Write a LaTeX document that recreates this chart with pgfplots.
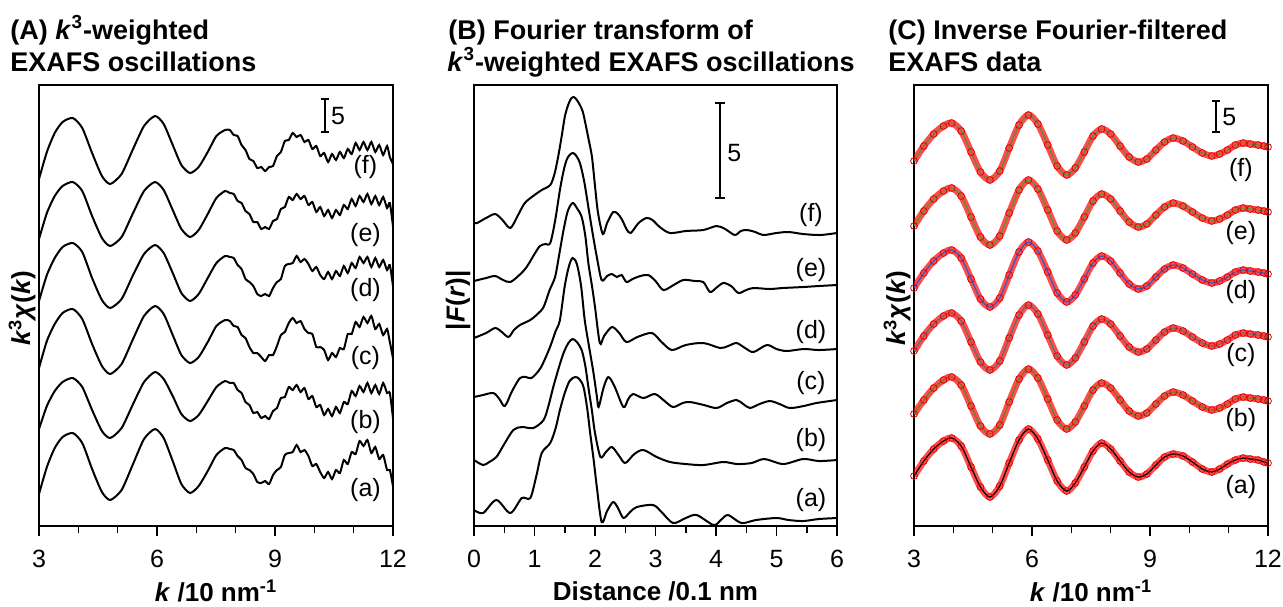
\documentclass[border=0pt]{standalone}
\usepackage{fontspec}
\setmainfont{Liberation Sans}
\usepackage{pgfplots}
\usepackage{pgfplotstable}
\pgfplotsset{compat=1.18}

\definecolor{fitf}{RGB}{95,140,60}
\definecolor{fite}{RGB}{90,150,50}
\definecolor{fitd}{RGB}{50,90,200}
\definecolor{fitc}{RGB}{90,115,110}
\definecolor{fitb}{RGB}{100,130,40}
\definecolor{fita}{RGB}{0,0,0}

% Panel A: k^3-weighted EXAFS (height in px above axis bottom)
\pgfplotstableread{
k a b c d e f
3.0 32 97 158 225 287 347
3.2 59 120 185 251 313 374
3.4 78 135 202 268 330 393
3.6 89 144 213 279 340 404
3.86 93 148 217 283 344 408
4.1 83 139 207 274 335 398
4.35 57 116 182 248 310 373
4.6 34 95 160 226 288 350
4.81 26 88 152 218 280 342
5.1 36 98 162 227 289 352
5.38 61 121 186 250 312 376
5.67 87 144 210 272 335 400
5.95 97 154 220 281 344 410
6.17 88 147 212 273 336 402
6.4 65 130 191 253 316 381
6.62 42 112 171 233 297 361
6.84 33 105 163 225 289 353
7.06 40 111 169 232 296 359
7.29 55 125 184 248 312 374
7.51 71 139 200 263 328 390
7.73 78 145 206 270 335 396
7.85 77 143 205 269 333 396
7.95 76 143 200 268 332 391
8.05 70 136 199 261 325 390
8.15 66 133 191 257 323 381
8.25 58 124 188 247 315 376
8.35 56 121 179 244 312 367
8.45 52 113 173 240 304 365
8.55 44 114 173 232 304 358
8.65 43 108 169 230 297 359
8.75 45 110 165 232 299 355
8.85 42 107 171 230 297 359
8.95 51 115 171 238 305 360
9.05 56 118 180 244 307 370
9.15 59 128 191 247 317 374
9.25 71 129 194 260 319 385
9.35 73 139 203 262 329 386
9.45 74 136 208 263 326 393
9.55 81 141 203 270 332 389
9.65 74 134 205 264 327 391
9.75 76 138 197 267 330 384
9.85 70 127 193 262 321 386
9.95 60 130 192 255 324 377
10.05 62 119 179 259 314 380
10.15 54 121 179 251 319 370
10.25 48 111 176 247 310 373
10.35 54 117 166 254 316 364
10.45 47 110 173 247 308 372
10.55 56 119 169 255 316 366
10.65 53 113 178 250 311 374
10.75 66 124 177 260 321 368
10.85 62 122 192 253 317 377
10.95 74 135 192 263 327 372
11.05 72 130 204 258 320 383
11.15 85 140 199 269 330 376
11.25 80 134 209 263 324 384
11.35 86 143 203 269 332 376
11.45 73 133 210 259 322 384
11.55 79 141 197 268 330 374
11.65 67 132 202 259 321 381
11.75 71 143 191 266 329 371
11.85 56 133 197 256 318 380
11.92 56 133 184 261 323 369
12.0 40 108 168 240 300 362
}\tabA

% Panel C: inverse Fourier-filtered EXAFS
\pgfplotstableread{
k f e d c b a
3.0 365 300 238 175 112 50
3.25 380 315 253 190 126 65
3.5 392 327 265 202 138 77
3.75 400 335 273 210 146 85
3.96 403 338 276 213 149 88
4.20 395 330 268 205 141 80
4.45 374 309 247 184 120 59
4.69 354 289 227 164 100 39
4.93 346 281 219 156 92 29
5.18 355 290 228 165 101 40
5.42 378 313 251 188 124 63
5.67 401 336 274 211 147 86
5.91 411 346 284 221 157 97
6.15 402 337 275 212 148 87
6.40 381 316 254 191 127 66
6.64 360 295 233 170 106 45
6.88 351 286 224 161 97 35
7.10 358 293 231 168 104 43
7.33 374 309 247 184 120 59
7.55 390 325 263 200 136 75
7.77 397 332 270 207 143 83
8.00 392 327 265 202 138 77
8.24 380 315 253 190 126 65
8.47 369 304 242 179 115 54
8.70 364 299 237 174 110 49
8.92 367 302 240 177 113 52
9.15 376 311 249 186 122 61
9.37 384 319 257 194 130 69
9.59 388 323 261 198 134 72
9.84 385 320 258 195 131 70
10.08 379 314 252 189 125 64
10.33 373 308 246 183 119 57
10.57 370 305 243 180 116 54
10.77 372 307 245 182 118 57
10.97 376 311 249 186 122 62
11.17 381 316 254 191 127 66
11.37 383 318 256 193 129 68
11.55 382 317 255 192 128 67
11.75 381 316 254 191 127 66
11.9 380 315 253 190 126 64
12.0 379 314 252 189 125 63
}\tabC

\tikzset{lbl/.style={font=\fontsize{12.5}{14}\selectfont, inner sep=0pt},
  ttl/.style={anchor=base west, inner sep=0pt, font=\bfseries\fontsize{13.5}{16}\selectfont}}

\pgfplotsset{
  panel/.style={
    scale only axis, anchor=north west,
    height=220.5pt,
    axis line style={line width=0.75pt},
    ytick=\empty, ymin=0, ymax=441,
    xtick pos=bottom,
    tick align=outside,
    major tick length=5pt, minor tick length=3.5pt,
    tick style={line width=0.75pt, black},
    /pgf/number format/assume math mode=true,
    xticklabel style={font=\fontsize{12.5}{14}\selectfont, anchor=center, yshift=-11.5pt},
    xlabel style={font=\bfseries\fontsize{13}{15}\selectfont, at={(axis description cs:0.5,-0.147)}, anchor=center},
    ylabel style={font=\bfseries\fontsize{13}{15}\selectfont, anchor=center},
  },
  curveA/.style={black, line width=1pt, smooth, tension=0.4},
  curveB/.style={black, line width=1pt, smooth, tension=0.5},
  band/.style={red, line width=3.4pt, opacity=0.7, smooth},
  circ/.style={red!90!black, only marks, mark=o, mark size=1.7pt, mark options={line width=0.4pt}},
}

\begin{document}
\begin{tikzpicture}[x=0.5pt,y=-0.5pt]
\useasboundingbox (0,0) rectangle (1283,606);

% Titles
\node[ttl] at (10,39) {(A) \textit{k}\textsuperscript{3}-weighted};
\node[ttl] at (10,71) {EXAFS oscillations};
\node[ttl] at (448,39) {(B) Fourier transform of};
\node[ttl] at (447,71) {\textit{k}\textsuperscript{3}-weighted EXAFS oscillations};
\node[ttl] at (888,39) {(C) Inverse Fourier-filtered};
\node[ttl] at (888,71) {EXAFS data};

% ---------------- Panel A ----------------
\begin{axis}[panel, at={(19.5pt,-42.5pt)}, width=177pt,
  xmin=3, xmax=12, xtick={3,6,9,12}, minor x tick num=2,
  xlabel={\textit{k} /10 nm\textsuperscript{-1}},
  ylabel={\textit{k}\textsuperscript{3}\textit{χ}(\textit{k})},
  ylabel style={at={(axis description cs:-0.048,0.494)}}]
\addplot[curveA] table[x=k,y=a]{\tabA};
\addplot[curveA] table[x=k,y=b]{\tabA};
\addplot[curveA] table[x=k,y=c]{\tabA};
\addplot[curveA] table[x=k,y=d]{\tabA};
\addplot[curveA] table[x=k,y=e]{\tabA};
\addplot[curveA] table[x=k,y=f]{\tabA};
\node[lbl] at (axis cs:11.3,36) {(a)};
\node[lbl] at (axis cs:11.3,104) {(b)};
\node[lbl] at (axis cs:11.3,168) {(c)};
\node[lbl] at (axis cs:11.3,236) {(d)};
\node[lbl] at (axis cs:11.3,291) {(e)};
\node[lbl] at (axis cs:11.3,359) {(f)};
\draw[line width=0.75pt] (axis cs:10.27,394) -- (axis cs:10.27,427);
\draw[line width=0.75pt] ([xshift=-2pt]axis cs:10.27,394) -- ([xshift=2pt]axis cs:10.27,394);
\draw[line width=0.75pt] ([xshift=-2pt]axis cs:10.27,427) -- ([xshift=2pt]axis cs:10.27,427);
\node[lbl, anchor=west] at (axis cs:10.42,410) {5};
\end{axis}

% ---------------- Panel B ----------------
\begin{axis}[panel, at={(237pt,-42.5pt)}, width=181.5pt,
  xmin=0, xmax=6, xtick={0,1,2,3,4,5,6}, minor x tick num=1,
  xlabel={Distance /0.1 nm},
  ylabel={|\textit{F}(\textit{r})|},
  ylabel style={at={(axis description cs:-0.044,0.512)}}]
% (a)
\addplot[curveB] coordinates {(0,16) (0.15,13) (0.37,26) (0.6,13) (0.79,28) (0.93,28) (1.03,50) (1.12,73) (1.26,83) (1.35,98) (1.42,116) (1.50,133) (1.58,145) (1.67,149) (1.74,147) (1.81,139) (1.87,118) (1.92,93) (1.98,65) (2.03,39) (2.11,4) (2.2,15) (2.30,24) (2.38,18) (2.47,8) (2.58,14) (2.69,19) (2.96,21) (3.1,14) (3.29,3) (3.5,8) (3.68,11) (3.96,1) (4.08,6) (4.2,11) (4.42,3) (4.66,6) (5.0,8) (5.2,6) (5.44,5) (5.7,7) (6.0,8)};
% (b)
\addplot[curveB] coordinates {(0,66) (0.15,61) (0.25,64) (0.37,69) (0.5,82) (0.65,96) (0.79,99) (0.98,98) (1.15,106) (1.23,120) (1.31,139) (1.40,158) (1.48,173) (1.56,183) (1.63,187) (1.70,184) (1.78,176) (1.84,160) (1.89,139) (1.95,115) (2.0,93) (2.09,69) (2.18,74) (2.28,79) (2.4,70) (2.50,63) (2.65,72) (2.80,76) (3.02,69) (3.24,64) (3.5,62) (3.79,61) (4.12,64) (4.35,62) (4.59,63) (4.8,67) (5.11,62) (5.44,67) (5.7,65) (6.0,66)};
% (c)
\addplot[curveB] coordinates {(0,129) (0.15,131) (0.32,133) (0.42,127) (0.51,120) (0.63,135) (0.76,148) (0.86,149) (0.95,148) (1.1,158) (1.25,178) (1.35,195) (1.42,206) (1.5,240) (1.57,260) (1.63,268) (1.70,262) (1.77,240) (1.83,206) (1.9,180) (1.97,155) (2.03,130) (2.06,119) (2.14,138) (2.22,149) (2.32,140) (2.47,119) (2.55,127) (2.63,132) (2.8,128) (2.99,132) (3.15,125) (3.29,119) (3.45,123) (3.57,124) (3.8,121) (4.01,118) (4.18,123) (4.34,126) (4.45,122) (4.56,118) (4.72,122) (4.89,125) (5.05,122) (5.22,118) (5.45,120) (5.66,123) (6.0,126)};
% (d)
\addplot[curveB] coordinates {(0,188) (0.2,193) (0.35,198) (0.46,194) (0.57,189) (0.66,196) (0.76,201) (0.93,206) (1.05,212) (1.15,219) (1.25,236) (1.34,249) (1.41,272) (1.48,296) (1.55,315) (1.63,323) (1.70,318) (1.78,309) (1.84,290) (1.89,263) (1.95,240) (2.0,219) (2.08,183) (2.15,190) (2.28,199) (2.4,193) (2.52,184) (2.7,189) (2.94,193) (3.1,184) (3.27,176) (3.5,181) (3.79,183) (4.07,178) (4.2,180) (4.34,183) (4.48,178) (4.62,174) (4.84,181) (5.0,177) (5.17,175) (5.45,177) (5.7,176) (6.0,177)};
% (e)
\addplot[curveB] coordinates {(0,245) (0.2,248) (0.35,250) (0.48,246) (0.60,244) (0.75,251) (0.87,259) (1.0,272) (1.09,280) (1.18,282) (1.26,283) (1.34,305) (1.42,336) (1.48,355) (1.53,366) (1.58,371) (1.63,373) (1.68,371) (1.75,363) (1.82,345) (1.89,319) (1.96,293) (2.03,269) (2.11,246) (2.2,250) (2.28,252) (2.36,249) (2.44,251) (2.52,244) (2.62,247) (2.75,250) (2.88,251) (3.0,245) (3.13,236) (3.3,241) (3.46,246) (3.65,245) (3.79,244) (3.90,234) (4.0,238) (4.12,243) (4.25,240) (4.37,233) (4.5,236) (4.62,238) (4.89,237) (5.1,238) (5.44,239) (5.7,240) (6.0,241)};
% (f)
\addplot[curveB] coordinates {(0,303) (0.05,303) (0.2,308) (0.35,312) (0.47,306) (0.6,298) (0.72,310) (0.84,323) (1.0,331) (1.12,336) (1.26,341) (1.33,352) (1.39,369) (1.45,390) (1.50,409) (1.55,420) (1.60,427) (1.65,429) (1.70,426) (1.75,421) (1.80,414) (1.85,400) (1.90,385) (1.95,369) (2.00,340) (2.05,313) (2.13,292) (2.20,303) (2.30,314) (2.38,312) (2.45,306) (2.52,297) (2.59,293) (2.72,303) (2.85,308) (2.95,306) (3.07,299) (3.24,293) (3.5,295) (3.79,296) (4.01,300) (4.15,297) (4.31,291) (4.41,295) (4.51,296) (4.65,294) (4.78,291) (5.0,293) (5.2,294) (5.44,292) (5.72,291) (6.0,293)};
\node[lbl] at (axis cs:5.57,26) {(a)};
\node[lbl] at (axis cs:5.57,86) {(b)};
\node[lbl] at (axis cs:5.57,143) {(c)};
\node[lbl] at (axis cs:5.57,194) {(d)};
\node[lbl] at (axis cs:5.57,256) {(e)};
\node[lbl] at (axis cs:5.57,311) {(f)};
\draw[line width=0.75pt] (axis cs:4.07,328) -- (axis cs:4.07,423);
\draw[line width=0.75pt] ([xshift=-2.5pt]axis cs:4.07,328) -- ([xshift=2.5pt]axis cs:4.07,328);
\draw[line width=0.75pt] ([xshift=-2.5pt]axis cs:4.07,423) -- ([xshift=2.5pt]axis cs:4.07,423);
\node[lbl, anchor=west] at (axis cs:4.18,373) {5};
\end{axis}

% ---------------- Panel C ----------------
\begin{axis}[panel, at={(457pt,-42.5pt)}, width=177pt,
  xmin=3, xmax=12, xtick={3,6,9,12}, minor x tick num=2,
  xlabel={\textit{k} /10 nm\textsuperscript{-1}},
  ylabel={\textit{k}\textsuperscript{3}\textit{χ}(\textit{k})},
  ylabel style={at={(axis description cs:-0.048,0.494)}}]
\addplot[band] table[x=k,y=a]{\tabC};
\addplot[circ] table[x=k,y=a]{\tabC};
\addplot[fita, line width=0.6pt, smooth] table[x=k,y=a]{\tabC};
\addplot[band] table[x=k,y=b]{\tabC};
\addplot[circ] table[x=k,y=b]{\tabC};
\addplot[fitb, line width=0.6pt, smooth] table[x=k,y=b]{\tabC};
\addplot[band] table[x=k,y=c]{\tabC};
\addplot[circ] table[x=k,y=c]{\tabC};
\addplot[fitc, line width=0.6pt, smooth] table[x=k,y=c]{\tabC};
\addplot[band] table[x=k,y=d]{\tabC};
\addplot[circ] table[x=k,y=d]{\tabC};
\addplot[fitd, line width=0.6pt, smooth] table[x=k,y=d]{\tabC};
\addplot[band] table[x=k,y=e]{\tabC};
\addplot[circ] table[x=k,y=e]{\tabC};
\addplot[fite, line width=0.6pt, smooth] table[x=k,y=e]{\tabC};
\addplot[band] table[x=k,y=f]{\tabC};
\addplot[circ] table[x=k,y=f]{\tabC};
\addplot[fitf, line width=0.6pt, smooth] table[x=k,y=f]{\tabC};
\node[lbl] at (axis cs:11.31,39) {(a)};
\node[lbl] at (axis cs:11.31,106) {(b)};
\node[lbl] at (axis cs:11.31,171) {(c)};
\node[lbl] at (axis cs:11.31,234) {(d)};
\node[lbl] at (axis cs:11.31,293) {(e)};
\node[lbl] at (axis cs:11.31,356) {(f)};
\draw[line width=0.75pt] (axis cs:10.68,394) -- (axis cs:10.68,425);
\draw[line width=0.75pt] ([xshift=-2pt]axis cs:10.68,394) -- ([xshift=2pt]axis cs:10.68,394);
\draw[line width=0.75pt] ([xshift=-2pt]axis cs:10.68,425) -- ([xshift=2pt]axis cs:10.68,425);
\node[lbl, anchor=west] at (axis cs:10.83,409) {5};
\end{axis}
\end{tikzpicture}
\end{document}
